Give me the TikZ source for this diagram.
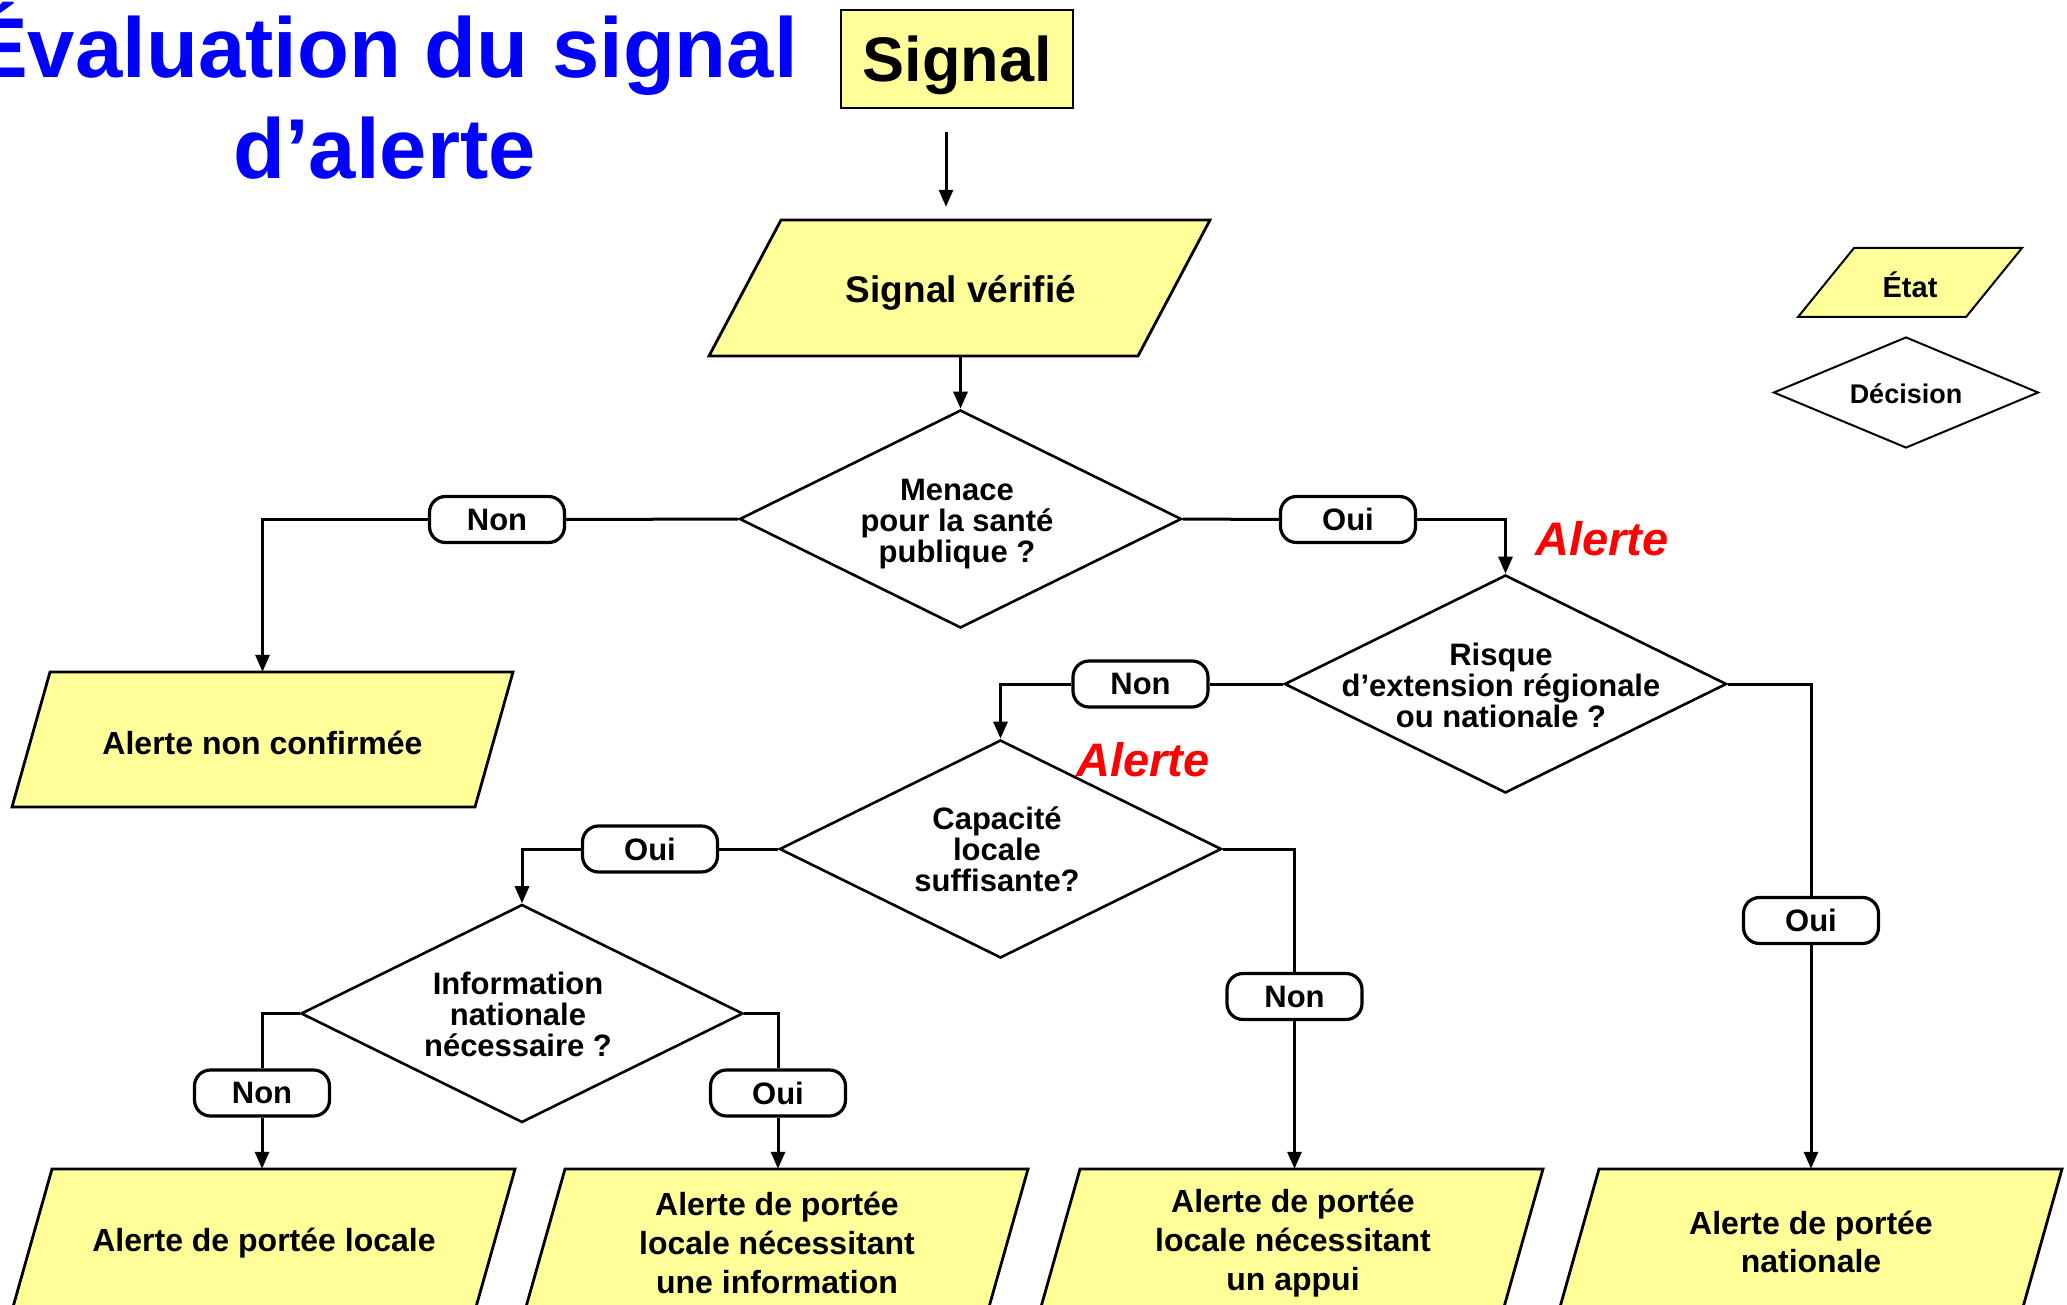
\documentclass[tikz,border=0pt]{standalone}
\usepackage{fontspec}
\setmainfont{Liberation Sans}
\usetikzlibrary{arrows.meta,shapes.geometric}
\definecolor{boxyellow}{HTML}{FFFF99}
\definecolor{titleblue}{HTML}{0000FF}
\definecolor{alertred}{HTML}{FF0000}
% parallelogram state box: name, cx, cy, total width, height, slant offset, style
\newcommand{\parabox}[7]{%
  \path[#7] (#2-#4/2+#6, #3-#5/2) -- (#2+#4/2, #3-#5/2) -- (#2+#4/2-#6, #3+#5/2) -- (#2-#4/2, #3+#5/2) -- cycle;
  \node[inner sep=0pt, minimum width=#4pt, minimum height=#5pt] (#1) at (#2,#3) {};}
\tikzset{
  para/.style={draw=black, fill=boxyellow, line width=2.8pt},
  legpara/.style={draw=black, fill=boxyellow, line width=2pt},
  paratext/.style={inner sep=0pt, align=center, font=\fontsize{32}{38.6}\selectfont\bfseries},
  decision/.style={diamond, draw, line width=2.6pt, inner sep=0pt, minimum width=442pt, minimum height=218pt, fill=white},
  legdiamond/.style={diamond, draw, line width=2pt, inner sep=0pt, minimum width=265pt, minimum height=111pt, fill=white},
  dectext/.style={align=center, inner sep=0pt, font=\fontsize{31}{31}\selectfont\bfseries},
  pill/.style={draw, line width=3.2pt, rounded corners=16pt, minimum width=135pt, minimum height=46pt, inner sep=0pt, fill=white, font=\fontsize{31}{31}\selectfont\bfseries},
  link/.style={line width=3pt},
  arrowlink/.style={line width=3pt, -{Triangle[length=17pt,width=14pt]}},
  alerte/.style={text=alertred, font=\fontsize{47}{47}\selectfont\bfseries\itshape, anchor=base west, inner sep=0pt},
  titletext/.style={text=titleblue, font=\fontsize{85}{85}\selectfont\bfseries, inner sep=0pt, anchor=base},
  sigbox/.style={draw, fill=boxyellow, line width=2.5pt, minimum width=232pt, minimum height=98pt, inner sep=0pt, text depth=0pt, font=\fontsize{63}{63}\selectfont\bfseries}
}
\begin{document}
\begin{tikzpicture}[x=1pt,y=-1pt]
\useasboundingbox (0,0) rectangle (2067,1305);

% title
\node[titletext] (t1) at (384.5,78) {Évaluation du signal};
\node[titletext] (t2) at (384.5,179) {d’alerte};

% Signal
\node[sigbox] (sig) at (957,59) {Signal};

% Signal vérifié
\parabox{sv}{959.5}{288}{501}{136}{72}{para}
\node[paratext, font=\fontsize{37}{37}\selectfont\bfseries] (svt) at (961,293) {Signal vérifié};

% decisions
\node[decision] (d1) at (960.5,519) {};
\node[dectext] (d1t) at (957,524) {Menace\\pour la santé\\publique ?};
\node[decision] (d2) at (1505.5,684) {};
\node[dectext] (d2t) at (1501,685.5) {Risque\\d’extension régionale\\ou nationale ?};
\node[decision] (d3) at (1000.5,849) {};
\node[dectext] (d3t) at (997,849.5) {Capacité\\locale\\suffisante?};
\node[decision] (d4) at (522,1013.5) {};
\node[dectext] (d4t) at (518,1014.5) {Information\\nationale\\nécessaire ?};

% states
\parabox{anc}{262.5}{739.5}{501}{135}{38}{para}
\node[paratext] (anct) at (262.5,743) {Alerte non confirmée};
\parabox{aloc}{264}{1238}{502}{138}{39}{para}
\node[paratext] (aloct) at (264,1243) {Alerte de portée locale};
\parabox{ainf}{777}{1238}{502}{138}{39}{para}
\node[paratext] (ainft) at (777,1243) {Alerte de portée\\locale nécessitant\\une information};
\parabox{aapp}{1292}{1238}{502}{138}{39}{para}
\node[paratext] (aappt) at (1293,1243) {Alerte de portée\\locale nécessitant\\un appui};
\parabox{anat}{1811}{1238}{502}{138}{39}{para}
\node[paratext] (anatt) at (1811,1242) {Alerte de portée\\nationale};

% labels
\node[pill] (non1) at (497,519.5) {Non};
\node[pill] (oui1) at (1348,519.5) {Oui};
\node[pill] (non2) at (1140.5,684) {Non};
\node[pill] (oui3) at (650,849) {Oui};
\node[pill] (non3) at (1294.5,996.5) {Non};
\node[pill] (oui4) at (1811,920.5) {Oui};
\node[pill] (non4) at (262,1093) {Non};
\node[pill] (oui5) at (778,1093) {Oui};

% connectors
\draw[arrowlink, shorten <=23pt, shorten >=13pt] ([xshift=-11pt]sig.south) -- ([xshift=-11pt]sig.south |- sv.north);
\draw[arrowlink] (d1.north |- sv.south) -- (d1.north);
\draw[link] (d1.west) -- (non1.east);
\draw[arrowlink] (non1.west) -| (anc.north);
\draw[link] (d1.east) -- (oui1.west);
\draw[arrowlink] (oui1.east) -| (d2.north);
\draw[link] (d2.west) -- (non2.east);
\draw[arrowlink] (non2.west) -| (d3.north);
\draw[link] (d2.east) -| (oui4.north);
\draw[arrowlink] (oui4.south) -- (oui4.south |- anat.north);
\draw[link] (d3.west) -- (oui3.east);
\draw[arrowlink] (oui3.west) -| (d4.north);
\draw[link] (d3.east) -| (non3.north);
\draw[arrowlink] (non3.south) -- (non3.south |- aapp.north);
\draw[link] (d4.west) -| (non4.north);
\draw[arrowlink] (non4.south) -- (non4.south |- aloc.north);
\draw[link] (d4.east) -| (oui5.north);
\draw[arrowlink] (oui5.south) -- (oui5.south |- ainf.north);

% alert marks
\node[alerte] (al1) at (1535,555) {Alerte};
\node[alerte] (al2) at (1076,776) {Alerte};

% legend
\parabox{leget}{1910}{282.5}{224}{69}{56}{legpara}
\node[inner sep=0pt, font=\fontsize{29}{29}\selectfont\bfseries] (legett) at (1910,285) {État};
\node[legdiamond] (legdec) at (1906,392.5) {};
\node[inner sep=0pt, font=\fontsize{27}{27}\selectfont\bfseries] (legdect) at (1906,394) {Décision};
\end{tikzpicture}
\end{document}
